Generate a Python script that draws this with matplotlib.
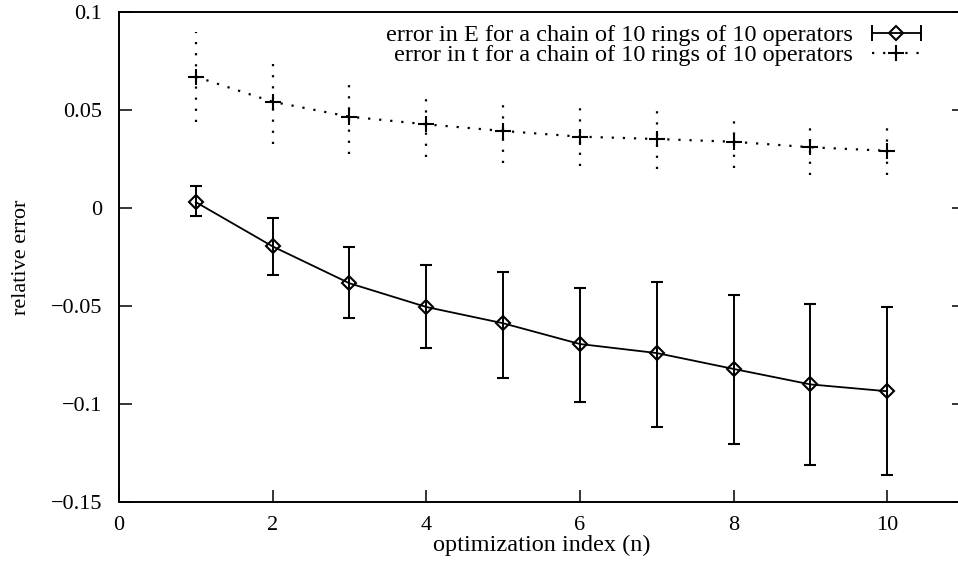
import numpy as np
import matplotlib
matplotlib.use("Agg")
from matplotlib import pyplot as plt
from matplotlib.lines import Line2D
from matplotlib.legend_handler import HandlerLine2D, HandlerTuple

# optimization index
n = [1, 2, 3, 4, 5, 6, 7, 8, 9, 10]

# relative error in E, with lower / upper ends of the error bars
err_E = [0.0030, -0.0196, -0.0384, -0.0505, -0.0588, -0.0694, -0.0740, -0.0821, -0.0900, -0.0935]
err_E_low = [-0.0040, -0.0342, -0.0563, -0.0716, -0.0866, -0.0990, -0.1117, -0.1204, -0.1310, -0.1360]
err_E_high = [0.0110, -0.0053, -0.0201, -0.0291, -0.0328, -0.0408, -0.0378, -0.0444, -0.0490, -0.0505]

# relative error in t, with lower / upper ends of the error bars
err_t = [0.0670, 0.0542, 0.0466, 0.0427, 0.0393, 0.0364, 0.0352, 0.0338, 0.0310, 0.0292]
err_t_low = [0.0440, 0.0327, 0.0276, 0.0262, 0.0228, 0.0214, 0.0197, 0.0206, 0.0168, 0.0168]
err_t_high = [0.0900, 0.0759, 0.0653, 0.0588, 0.0555, 0.0512, 0.0504, 0.0469, 0.0449, 0.0423]

label_E = "error in E for a chain of 10 rings of 10 operators"
label_t = "error in t for a chain of 10 rings of 10 operators"

xticks = [0, 2, 4, 6, 8, 10]
yticks = [-0.15, -0.1, -0.05, 0, 0.05, 0.1]
ytick_labels = ["\u22120.15", "\u22120.1", "\u22120.05", "0", "0.05", "0.1"]

plt.rcParams["font.family"] = ["Liberation Serif", "DejaVu Serif"]
plt.rcParams["font.size"] = 16

fig = plt.figure(figsize=(9.58, 5.71), dpi=100)
ax = fig.add_axes([119 / 958, 69 / 571, 845 / 958, 490 / 571])

def yerr_of(y, lo, hi):
    y = np.array(y)
    return [y - np.array(lo), np.array(hi) - y]

ax.errorbar(n, err_E, yerr=yerr_of(err_E, err_E_low, err_E_high),
            color="black", lw=1.3, elinewidth=1.4, capsize=4.5, capthick=1.4,
            marker="D", markersize=7, mfc="none", mec="black", mew=1.5)

eb = ax.errorbar(n, err_t, yerr=yerr_of(err_t, err_t_low, err_t_high),
                 color="black", lw=1.6, ls=(0, (1, 4)), elinewidth=1.6, capsize=0,
                 marker="+", markersize=12, mew=1.5)
eb[2][0].set_linestyle((0, (1, 4)))

ax.set_xlim(0, 11)
ax.set_ylim(-0.15, 0.1)
ax.set_xticks(xticks)
ax.set_yticks(yticks)
ax.set_yticklabels(ytick_labels, fontsize=16)
ax.tick_params(axis="x", labelsize=16, pad=10)
ax.tick_params(direction="in", length=9, width=1.1, top=False, right=True)
ax.tick_params(axis="y", pad=12)
for s in ax.spines.values():
    s.set_linewidth(1.4)

ax.set_xlabel("optimization index (n)", fontsize=17.5, labelpad=0)
ax.set_ylabel("relative error", fontsize=16, labelpad=14)

# legend samples drawn gnuplot-style: horizontal bar with caps and a marker
caps_E = Line2D([], [], color="black", lw=1.3, marker="|", markersize=11, mew=1.4)
mark_E = Line2D([], [], ls="none", marker="D", markersize=7, mfc="none", mec="black", mew=1.5)
caps_t = Line2D([], [], color="black", lw=1.6, ls=(0, (1, 4)))
mark_t = Line2D([], [], ls="none", marker="+", markersize=12, mec="black", mew=1.5)

hmap = {caps_E: HandlerLine2D(numpoints=2), mark_E: HandlerLine2D(numpoints=1),
        caps_t: HandlerLine2D(numpoints=2), mark_t: HandlerLine2D(numpoints=1),
        tuple: HandlerTuple(ndivide=1)}
ax.legend([(caps_E, mark_E), (caps_t, mark_t)], [label_E, label_t],
          handler_map=hmap, loc="upper right", bbox_to_anchor=(940 / 958, 1 - 12 / 571),
          bbox_transform=fig.transFigure, frameon=False, markerfirst=False,
          handlelength=2.6, handletextpad=0.5, labelspacing=-0.08, borderpad=0,
          fontsize=17.5)

fig.savefig("out.png", dpi=100)
